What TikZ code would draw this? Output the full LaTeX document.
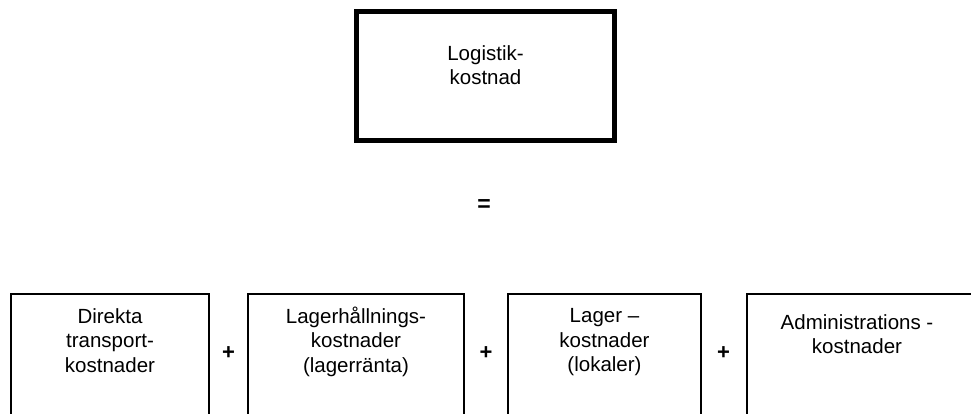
\documentclass[tikz,border=0pt]{standalone}
\usepackage{fontspec}
\setmainfont{Liberation Sans}
\begin{document}
\begin{tikzpicture}[x=1pt,y=-1pt,
  label text/.style={inner sep=0pt, align=center, font=\fontsize{20.5}{24.5}\selectfont},
  sign/.style={inner sep=0pt, font=\bfseries\fontsize{22}{24}\selectfont},
  main box/.style={draw, line width=4.5pt, inner sep=0pt},
  part box/.style={draw, line width=2pt, inner sep=0pt, minimum height=150pt}
]
\useasboundingbox (0,0) rectangle (971,414);
\clip (0,0) rectangle (971,414);

% total cost
\node[main box, minimum width=258pt, minimum height=129pt] (total) at (485.5,76) {};
\node[label text] (totaltext) at (485.5,65.3) {Logistik-\\kostnad};

\node[sign, font=\bfseries\fontsize{23}{24}\selectfont] (eq) at (484,206) {=};

% cost components (open at the bottom edge)
\node[part box, minimum width=198pt, anchor=north] (c1) at (110,292.7) {};
\node[part box, minimum width=216pt, anchor=north] (c2) at (356,292.7) {};
\node[part box, minimum width=193pt, anchor=north] (c3) at (604.5,292.7) {};
\node[part box, minimum width=240pt, anchor=north west] (c4) at (746,292.7) {};

\node[label text] (t1) at (110,340.3) {Direkta\\transport-\\kostnader};
\node[label text] (t2) at (356,341.5) {Lagerhållnings-\\kostnader\\(lagerränta)};
\node[label text] (t3) at (604.5,342.2) {Lager –\\kostnader\\(lokaler)};
\node[label text] (t4) at (857,334.1) {Administrations -\\kostnader};

\node[sign] (p1) at (228.5,353) {+};
\node[sign] (p2) at (486,353) {+};
\node[sign] (p3) at (723.5,353) {+};
\end{tikzpicture}
\end{document}
